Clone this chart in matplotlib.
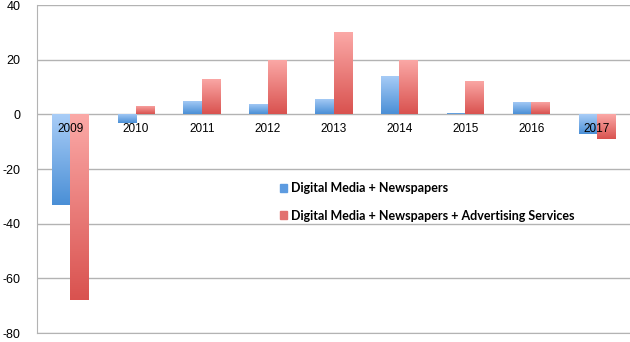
import numpy as np
import matplotlib.pyplot as plt
from matplotlib.colors import LinearSegmentedColormap
from matplotlib.patches import Rectangle

years = ['2009', '2010', '2011', '2012', '2013', '2014', '2015', '2016', '2017']
digital_news = [-33, -3.3, 5, 4, 5.7, 14, 0.4, 4.6, -7]
digital_news_ads = [-68, 3, 13, 20, 30, 20, 12.4, 4.6, -9]
series_names = ['Digital Media + Newspapers',
                'Digital Media + Newspapers + Advertising Services']

plt.rcParams['axes.unicode_minus'] = False

blue_map = LinearSegmentedColormap.from_list('b', ['#4a8fd6', '#a9cdf7'])
red_map = LinearSegmentedColormap.from_list('r', ['#d9524f', '#fba9a7'])

fig = plt.figure(figsize=(6.3, 3.42), dpi=100)
ax = fig.add_axes([0.059, 0.026, 0.941, 0.959])

x = np.arange(len(years))
w = 0.28
grad = np.linspace(0, 1, 256).reshape(-1, 1)


def gradient_bars(xs, vals, cmap):
    for xi, v in zip(xs, vals):
        lo, hi = min(0, v), max(0, v)
        im = ax.imshow(grad, cmap=cmap, origin='lower', aspect='auto',
                       extent=(xi - w / 2, xi + w / 2, lo, hi), zorder=3)
        rect = Rectangle((xi - w / 2, lo), w, hi - lo, transform=ax.transData,
                         facecolor='none', edgecolor='none')
        ax.add_patch(rect)
        im.set_clip_path(rect)


gradient_bars(x - w / 2, digital_news, blue_map)
gradient_bars(x + w / 2, digital_news_ads, red_map)

ax.set_xlim(-0.5, len(years) - 0.5)
ax.set_ylim(-80, 40)
ax.set_yticks(range(-80, 41, 20))
ax.set_xticks([])
ax.yaxis.grid(True, color='#b3b3b3', linewidth=1)
ax.set_axisbelow(True)
ax.tick_params(axis='y', length=0, pad=12, labelsize=9)
for lbl in ax.get_yticklabels():
    lbl.set_fontfamily('Liberation Sans')
for s in ['top', 'right']:
    ax.spines[s].set_visible(False)
for s in ['left', 'bottom']:
    ax.spines[s].set_color('#b3b3b3')

for xi, yr in zip(x, years):
    ax.text(xi, -5.5, yr, ha='center', va='center', fontsize=8.5,
            family='Liberation Sans', zorder=5)

handles = [Rectangle((0, 0), 1, 1, color='#5d9be0'),
           Rectangle((0, 0), 1, 1, color='#e27270')]
ax.legend(handles, series_names, loc='center left', bbox_to_anchor=(0.39, 0.40),
          frameon=False, handlelength=0.6, handleheight=0.6, handletextpad=0.35,
          labelspacing=1.25, prop={'family': 'Lato', 'weight': 'bold', 'size': 9})

fig.savefig('out.png', dpi=100)
